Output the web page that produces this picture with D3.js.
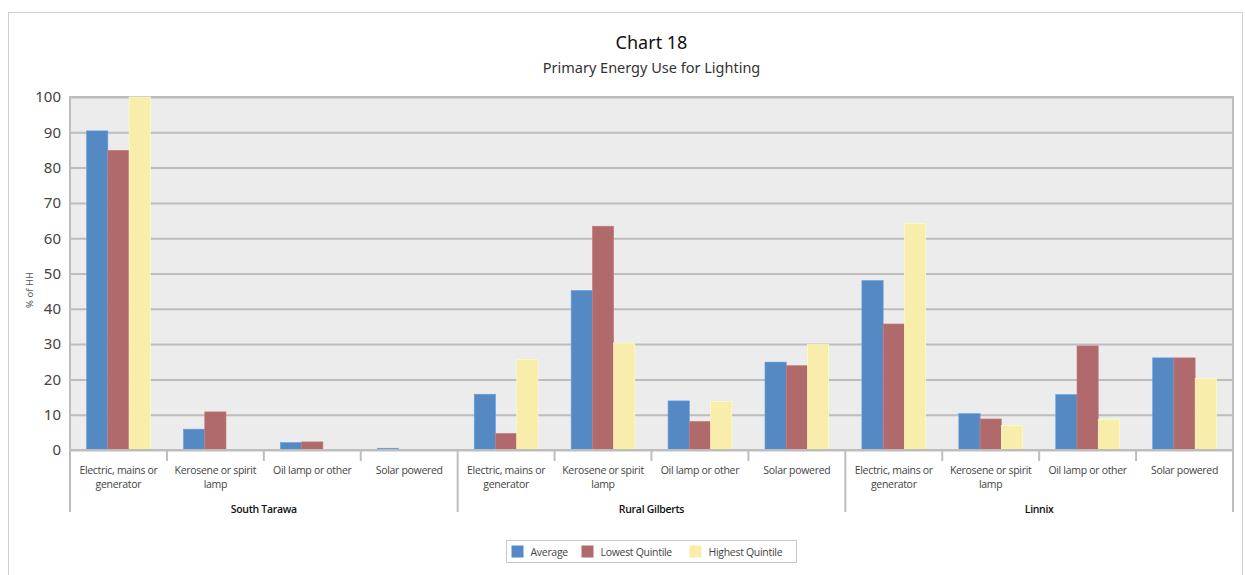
<!DOCTYPE html>
<html>
<head>
<meta charset="utf-8">
<script src="https://cdn.jsdelivr.net/npm/d3@7"></script>
<style>
  body { margin: 0; background: #fff; }
  svg { display: block; font-family: "Noto Sans", "Open Sans", sans-serif; }
</style>
</head>
<body>
<div id="chart"></div>
<script>
const groups = ["South Tarawa", "Rural Gilberts", "Linnix"];
const categories = ["Electric, mains or generator", "Kerosene or spirit lamp", "Oil lamp or other", "Solar powered"];
const seriesNames = ["Average", "Lowest Quintile", "Highest Quintile"];
const seriesColors = ["#5489C3", "#B06A6C", "#F8EDAB"];
const yTicks = [0, 10, 20, 30, 40, 50, 60, 70, 80, 90, 100];

// values per group, in category order
const average = [
  [90.4, 5.9, 2.1, 0.5],
  [15.8, 45.2, 13.9, 24.9],
  [48.0, 10.3, 15.7, 26.1]
];
const lowestQuintile = [
  [84.9, 10.8, 2.3, 0],
  [4.7, 63.4, 8.1, 23.9],
  [35.7, 8.8, 29.5, 26.1]
];
const highestQuintile = [
  [100, 0, 0, 0],
  [25.7, 30.3, 13.8, 29.9],
  [64.2, 7.0, 8.7, 20.2]
];
const seriesValues = [average, lowestQuintile, highestQuintile];

const W = 1245, H = 575;
const margin = { top: 97, right: 12, bottom: 125, left: 70 };
const innerW = W - margin.left - margin.right;
const innerH = H - margin.top - margin.bottom;
const gridColor = "#BDBDBD";

const svg = d3.select("#chart").append("svg")
  .attr("width", W)
  .attr("height", H);

// outer frame
svg.append("rect")
  .attr("x", 8.5).attr("y", 12.5)
  .attr("width", 1234).attr("height", 600)
  .attr("fill", "none").attr("stroke", "#D0D0D0");

svg.append("text")
  .attr("x", margin.left + innerW / 2).attr("y", 49)
  .attr("text-anchor", "middle")
  .attr("font-size", 18).attr("fill", "#111")
  .text("Chart 18");

svg.append("text")
  .attr("x", margin.left + innerW / 2).attr("y", 73)
  .attr("text-anchor", "middle")
  .attr("font-size", 14.5).attr("fill", "#333")
  .text("Primary Energy Use for Lighting");

const g = svg.append("g")
  .attr("transform", `translate(${margin.left},${margin.top})`);

// flattened slots: group x category
const slots = [];
groups.forEach((grp, gi) => categories.forEach((cat, ci) => slots.push({ gi, ci, cat })));

const x = d3.scaleBand()
  .domain(d3.range(slots.length))
  .range([0, innerW])
  .padding(0);

const xSeries = d3.scaleBand()
  .domain(d3.range(seriesNames.length))
  .range([0, x.bandwidth()])
  .paddingInner(0)
  .paddingOuter(0.78);

const y = d3.scaleLinear()
  .domain([0, 100])
  .range([innerH, 0]);

g.append("rect")
  .attr("width", innerW).attr("height", innerH)
  .attr("fill", "#EBECEB");

// gridlines
g.append("g")
  .attr("class", "grid")
  .call(d3.axisLeft(y).tickValues(yTicks).tickSize(-innerW).tickFormat(""))
  .call(s => s.select(".domain").remove())
  .call(s => s.selectAll("line").attr("stroke", gridColor).attr("stroke-width", 2));

// plot border (left, top, right)
g.append("path")
  .attr("d", `M0,${innerH}V0H${innerW}V${innerH}`)
  .attr("fill", "none").attr("stroke", gridColor).attr("stroke-width", 2);

// y tick labels
g.append("g")
  .call(d3.axisLeft(y).tickValues(yTicks).tickSize(0).tickPadding(9))
  .call(s => s.select(".domain").remove())
  .call(s => s.selectAll("text").attr("font-size", 15).attr("fill", "#444")
    .attr("font-family", "\"Noto Sans\", sans-serif"));

g.append("text")
  .attr("transform", "rotate(-90)")
  .attr("x", -193).attr("y", -37)
  .attr("text-anchor", "middle")
  .attr("font-size", 9.5).attr("fill", "#555")
  .text("% of HH");

// bars
const barData = [];
slots.forEach((s, i) => seriesNames.forEach((name, si) => {
  barData.push({ slot: i, si, v: seriesValues[si][s.gi][s.ci] });
}));

g.append("g").selectAll("rect")
  .data(barData.filter(d => d.v > 0))
  .enter().append("rect")
  .attr("x", d => x(d.slot) + xSeries(d.si))
  .attr("y", d => y(d.v))
  .attr("width", xSeries.bandwidth())
  .attr("height", d => y(0) - y(d.v))
  .attr("fill", d => seriesColors[d.si])
  .attr("stroke", d => d3.color(seriesColors[d.si]).brighter(0.4))
  .attr("stroke-width", 0.6);

// x axis line and category ticks
g.append("line")
  .attr("x1", 0).attr("x2", innerW)
  .attr("y1", innerH).attr("y2", innerH)
  .attr("stroke", gridColor).attr("stroke-width", 2);

const boundaries = d3.range(slots.length + 1);
g.append("g").selectAll("line")
  .data(boundaries)
  .enter().append("line")
  .attr("x1", i => i === slots.length ? innerW : x(i))
  .attr("x2", i => i === slots.length ? innerW : x(i))
  .attr("y1", innerH)
  .attr("y2", i => i % categories.length === 0 ? innerH + 62 : innerH + 11)
  .attr("stroke", gridColor).attr("stroke-width", 2);

// category labels with wrapping
function wrap(text, width) {
  text.each(function () {
    const t = d3.select(this);
    const words = t.text().split(/\s+/).reverse();
    let line = [], word;
    let tspan = t.text(null).append("tspan").attr("x", t.attr("x")).attr("dy", 0);
    while ((word = words.pop())) {
      line.push(word);
      tspan.text(line.join(" "));
      if (tspan.node().getComputedTextLength() > width && line.length > 1) {
        line.pop();
        tspan.text(line.join(" "));
        line = [word];
        tspan = t.append("tspan").attr("x", t.attr("x"))
          .attr("dy", 14).text(word);
      }
    }
  });
}

g.append("g").selectAll("text")
  .data(slots)
  .enter().append("text")
  .attr("x", (d, i) => x(i) + x.bandwidth() / 2)
  .attr("y", innerH + 24)
  .attr("text-anchor", "middle")
  .attr("font-size", 10.5).attr("fill", "#444")
  .attr("font-family", "\"Open Sans\", sans-serif")
  .attr("letter-spacing", -0.3)
  .text(d => d.cat)
  .call(wrap, 86);

// group labels
g.append("g").selectAll("text")
  .data(groups)
  .enter().append("text")
  .attr("x", (d, gi) => x(gi * categories.length) + x.bandwidth() * categories.length / 2)
  .attr("y", innerH + 63)
  .attr("text-anchor", "middle")
  .attr("font-size", 10.5).attr("font-weight", 600).attr("fill", "#111")
  .attr("font-family", "\"Open Sans\", sans-serif")
  .attr("letter-spacing", -0.3)
  .text(d => d);

// legend
const legend = svg.append("g").attr("transform", "translate(506.5,540.5)");
legend.append("rect")
  .attr("width", 290).attr("height", 22)
  .attr("fill", "#fff").attr("stroke", "#C8C8C8");

const legendX = [5, 75, 183];
const item = legend.selectAll("g.item")
  .data(seriesNames)
  .enter().append("g")
  .attr("class", "item")
  .attr("transform", (d, i) => `translate(${legendX[i]},5)`);

item.append("rect")
  .attr("width", 12).attr("height", 12)
  .attr("fill", (d, i) => seriesColors[i]);

item.append("text")
  .attr("x", 19).attr("y", 10.5)
  .attr("font-size", 10.5).attr("fill", "#444")
  .attr("font-family", "\"Open Sans\", sans-serif")
  .attr("letter-spacing", -0.3)
  .text(d => d);
</script>
</body>
</html>
